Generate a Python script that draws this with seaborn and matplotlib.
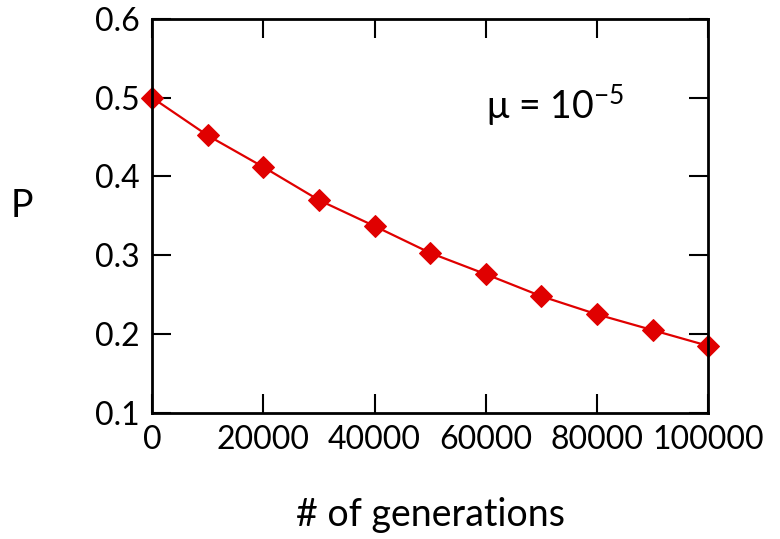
import numpy as np
import pandas as pd
import matplotlib
matplotlib.use("Agg")
import matplotlib.pyplot as plt
import seaborn as sns

generations = [0, 10000, 20000, 30000, 40000, 50000, 60000, 70000, 80000, 90000, 100000]
p_values = [0.500, 0.452, 0.412, 0.370, 0.337, 0.303, 0.276, 0.248, 0.225, 0.205, 0.185]
x_ticks = [0, 20000, 40000, 60000, 80000, 100000]
y_ticks = [0.1, 0.2, 0.3, 0.4, 0.5, 0.6]

data = pd.DataFrame({"gen": generations, "p": p_values})

sns.set_style("ticks", {"text.color": "black", "axes.labelcolor": "black",
                        "xtick.color": "black", "ytick.color": "black",
                        "axes.edgecolor": "black"})
plt.rcParams['font.family'] = ['Lato', 'DejaVu Sans']

fig = plt.figure(figsize=(7.8, 5.39), dpi=100)
ax = fig.add_axes([0.195, 0.234, 0.713, 0.731])

red = "#e00000"
sns.lineplot(data=data, x="gen", y="p", ax=ax, color=red, lw=1.6,
             marker="D", markersize=11, markeredgecolor=red, clip_on=False)

ax.set_xlim(0, 100000)
ax.set_ylim(0.1, 0.6)
ax.set_xticks(x_ticks)
ax.set_yticks(y_ticks)
ax.set_xticklabels([str(t) for t in x_ticks])
ax.set_yticklabels([f"{t:.1f}" for t in y_ticks])
ax.tick_params(direction="in", length=14, width=1.5, labelsize=23,
               top=True, right=True, pad=9)
for s in ax.spines.values():
    s.set_linewidth(2)
    s.set_visible(True)

ax.set_xlabel("# of generations", fontsize=27, labelpad=30)
ax.set_ylabel("P", fontsize=27, rotation=0, va="center", ha="left")
ax.yaxis.set_label_coords(-0.255, 0.525)
ax.text(0.6, 0.78, r"μ = 10$^{\mathregular{-5}}$", transform=ax.transAxes,
        fontsize=27, ha="left", va="center")

fig.savefig("out.png", dpi=100)
